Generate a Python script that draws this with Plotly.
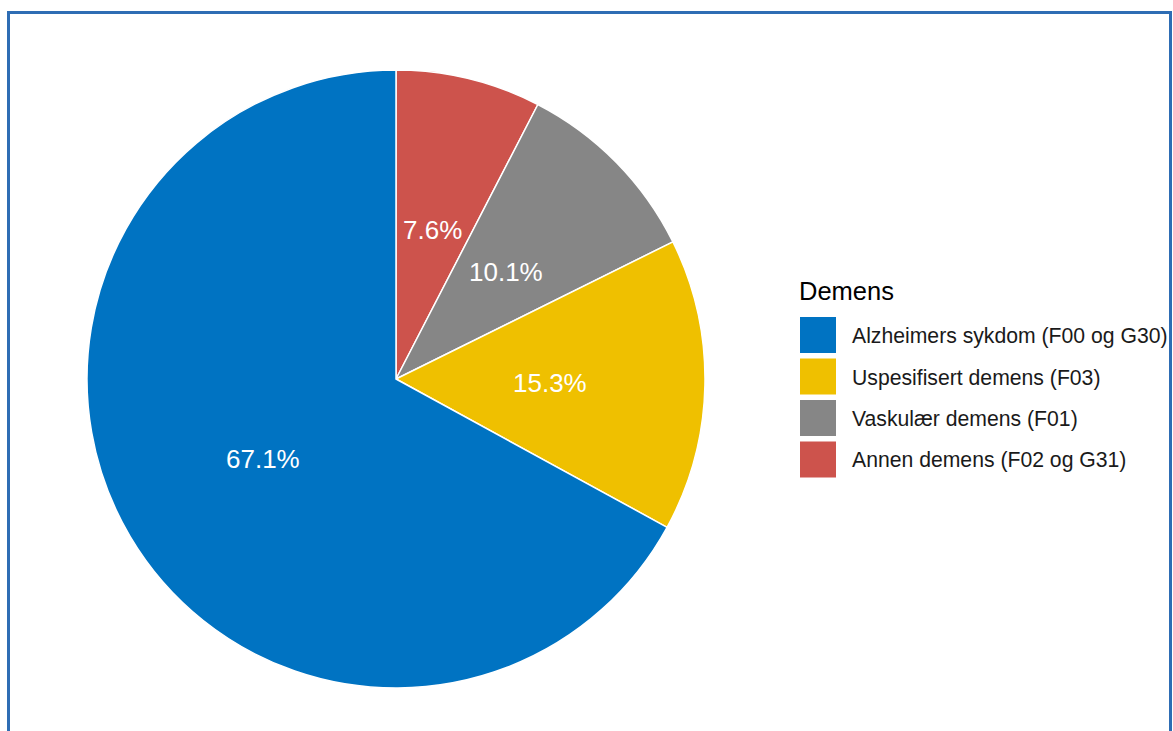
import math
import plotly.graph_objects as go

# Dementia diagnosis shares (%)
labels = [
    "Alzheimers sykdom (F00 og G30)",
    "Uspesifisert demens (F03)",
    "Vaskulær demens (F01)",
    "Annen demens (F02 og G31)",
]
shares = [67.1, 15.3, 10.1, 7.6]
colors = ["#0073C2", "#EFC000", "#868686", "#CD534C"]
legend_title = "Demens"

W, H = 1173, 731
FONT = "Liberation Sans, Arial, sans-serif"


def px(x):
    return x / W


def py(y):
    return 1 - y / H


# pie geometry (pixels)
cx, cy, R = 396, 379, 309

# slices run clockwise from 12 o'clock in reverse legend order
pie_labels = labels[::-1]
pie_values = shares[::-1]
pie_colors = colors[::-1]

fig = go.Figure(
    go.Pie(
        labels=pie_labels,
        values=pie_values,
        sort=False,
        direction="clockwise",
        rotation=0,
        marker=dict(colors=pie_colors, line=dict(color="white", width=1.5)),
        textinfo="none",
        hoverinfo="label+percent",
        showlegend=False,
        domain=dict(x=[px(cx - R), px(cx + R)], y=[py(cy + R), py(cy - R)]),
    )
)

annotations = []
shapes = []

# percentage labels placed at the mid-angle of each slice
total = sum(pie_values)
cum = 0.0
for v in pie_values:
    theta = math.radians((cum + v / 2) / total * 360)
    cum += v
    rr = 0.5 * R
    x = cx + rr * math.sin(theta)
    y = cy - rr * math.cos(theta)
    annotations.append(dict(
        x=px(x), y=py(y + 1), xref="paper", yref="paper",
        text=f"{v:.1f}%", showarrow=False,
        xanchor="center", yanchor="middle",
        font=dict(family=FONT, size=26, color="white"),
    ))

# legend
annotations.append(dict(
    x=px(797), y=py(291), xref="paper", yref="paper",
    text=legend_title, showarrow=False, xanchor="left", yanchor="middle",
    font=dict(family=FONT, size=25.5, color="#000000"),
))
row0, pitch, sq = 335, 41.5, 36
for i, (lab, col) in enumerate(zip(labels, colors)):
    yc = row0 + i * pitch
    shapes.append(dict(
        type="rect", xref="paper", yref="paper",
        x0=px(800), x1=px(800 + sq), y0=py(yc + sq / 2), y1=py(yc - sq / 2),
        fillcolor=col, line=dict(width=0),
    ))
    annotations.append(dict(
        x=px(850), y=py(yc + 1), xref="paper", yref="paper",
        text=lab, showarrow=False, xanchor="left", yanchor="middle",
        font=dict(family=FONT, size=21.2, color="#1a1a1a"),
    ))

# frame
frame = "#2E6DB4"
for x0, y0, x1, y1 in [(8.5, 12.5, 8.5, H + 5), (7, 12.5, 1172, 12.5),
                       (1170.5, 12.5, 1170.5, H + 5)]:
    shapes.append(dict(
        type="line", xref="paper", yref="paper",
        x0=px(x0), y0=py(y0), x1=px(x1), y1=py(y1),
        line=dict(color=frame, width=3),
    ))

fig.update_layout(
    width=W, height=H,
    margin=dict(l=0, r=0, t=0, b=0),
    paper_bgcolor="white", plot_bgcolor="white",
    annotations=annotations, shapes=shapes,
    font=dict(family=FONT),
)

fig.write_html("out.html")
